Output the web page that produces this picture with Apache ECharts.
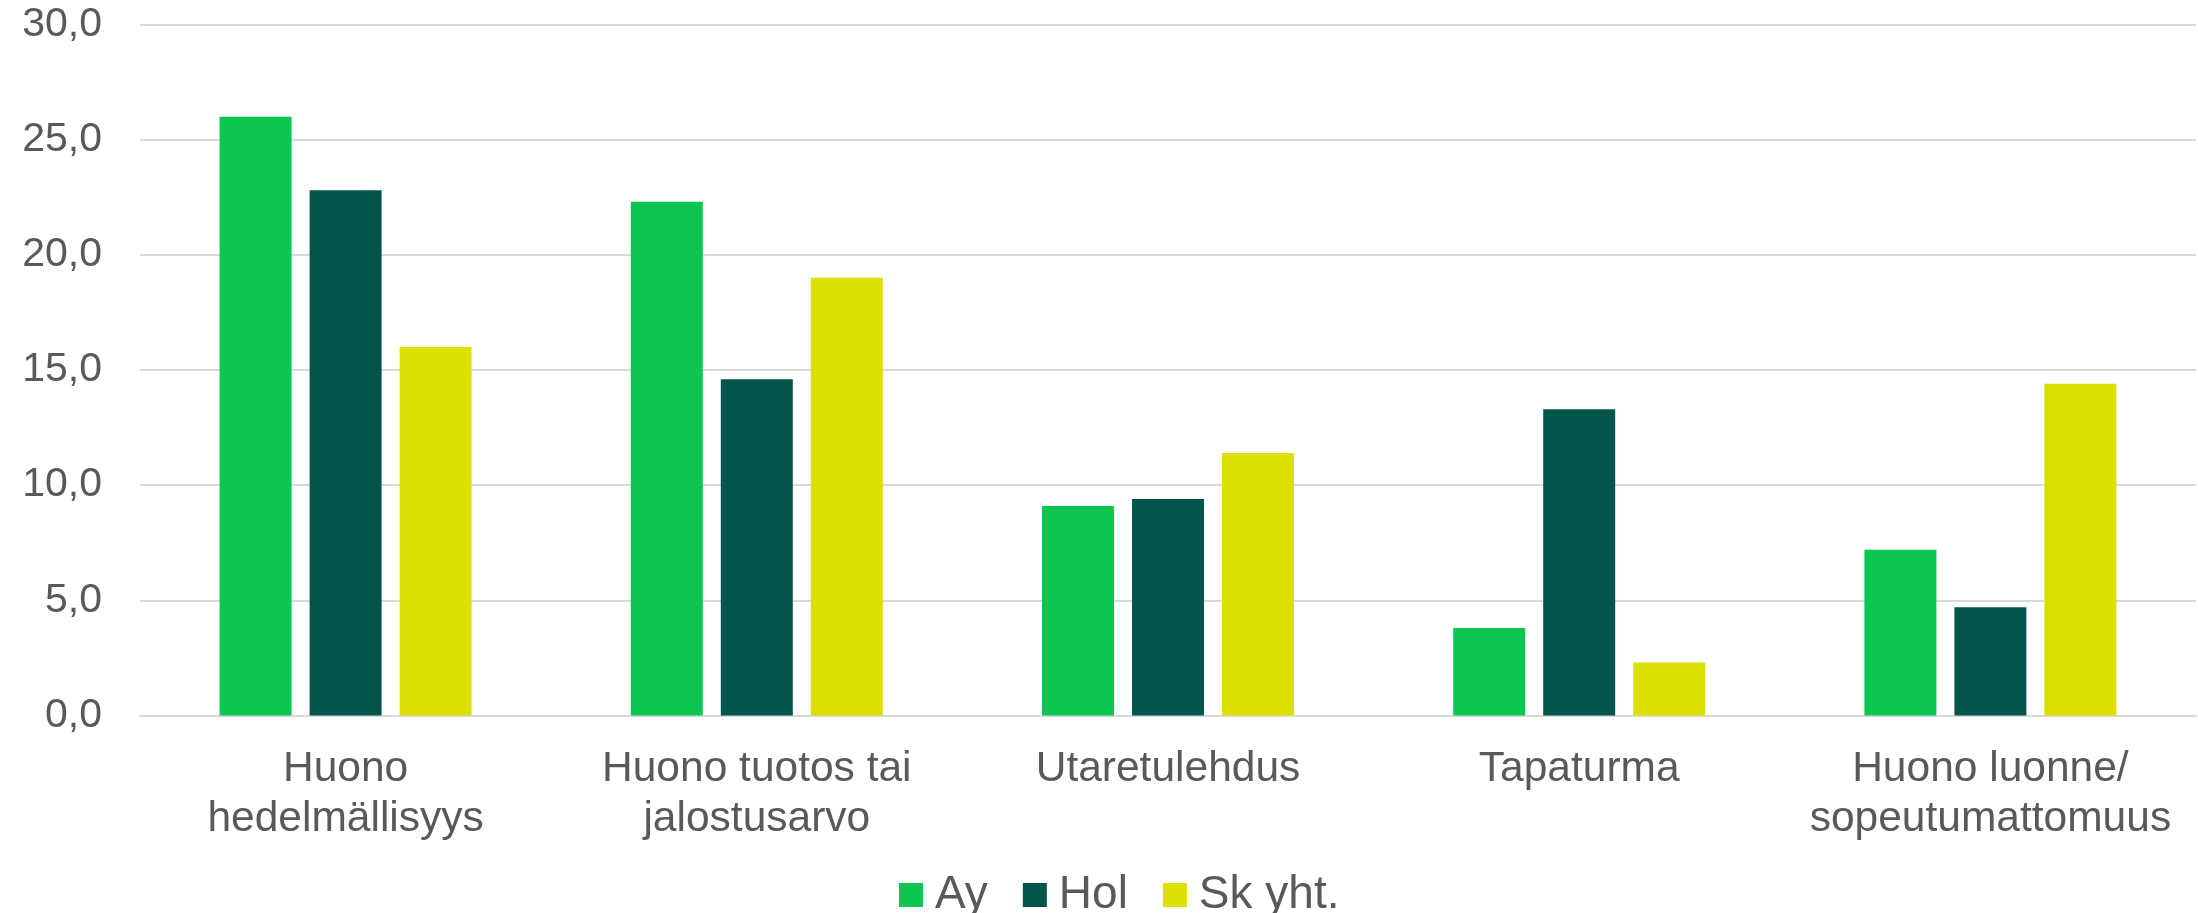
<!DOCTYPE html>
<html lang="fi">
    <head>
        <meta charset="UTF-8">
        <meta name="viewport" content="width=device-width, initial-scale=1.0">
        <script type="text/javascript" src="https://cdn.jsdelivr.net/npm/echarts@6.0.0/dist/echarts.min.js"></script>
        <title>Poistosyyt</title>
        <style>
            body { margin: 0; background: #fff; }
        </style>
    </head>
    <body>
        <div id="chart" style="width: 2198px; height: 913px;"></div>
    </body>
    <script>
        // poistosyyt, osuus (%)
        var categories = [
            "Huono\nhedelmällisyys",
            "Huono tuotos tai\njalostusarvo",
            "Utaretulehdus",
            "Tapaturma",
            "Huono luonne/\nsopeutumattomuus"
        ];
        var seriesNames = ["Ay", "Hol", "Sk yht."];
        var ayData  = [26.0, 22.3, 9.1, 3.8, 7.2];
        var holData = [22.8, 14.6, 9.4, 13.3, 4.7];
        var skData  = [16.0, 19.0, 11.4, 2.3, 14.4];
        var colors = ["#0bc650", "#03554b", "#dce000"];

        var font = '"Liberation Sans", Arial, sans-serif';
        var myCharts = echarts.init(document.getElementById("chart"));

        function makeBar(name, data, color) {
            return {
                name: name,
                type: "bar",
                data: data,
                barWidth: 72,
                barGap: "25%",
                itemStyle: { color: color },
                animation: false
            };
        }

        var option = {
            backgroundColor: "#ffffff",
            textStyle: { fontFamily: font },
            grid: {
                left: 140,
                right: 2,
                top: 24.5,
                bottom: 197.5,
                containLabel: false
            },
            legend: {
                data: seriesNames,
                left: 894,
                top: 867,
                itemWidth: 24,
                itemHeight: 24,
                itemGap: 35,
                icon: "rect",
                textStyle: {
                    fontFamily: font,
                    fontSize: 46,
                    lineHeight: 46,
                    color: "#595959",
                    padding: [0, 0, 0, 7]
                }
            },
            xAxis: {
                type: "category",
                data: categories,
                axisTick: { show: false },
                axisLine: { lineStyle: { color: "#d9d9d9", width: 2 } },
                axisLabel: {
                    interval: 0,
                    margin: 29,
                    fontFamily: font,
                    fontSize: 42.5,
                    lineHeight: 50,
                    color: "#595959"
                }
            },
            yAxis: {
                type: "value",
                min: 0,
                max: 30,
                interval: 5,
                axisLine: { show: false },
                axisTick: { show: false },
                splitLine: { lineStyle: { color: "#d9d9d9", width: 2 } },
                axisLabel: {
                    margin: 38,
                    fontFamily: font,
                    fontSize: 41,
                    color: "#595959",
                    formatter: function (v) {
                        return v.toFixed(1).replace(".", ",");
                    }
                }
            },
            series: [
                makeBar(seriesNames[0], ayData, colors[0]),
                makeBar(seriesNames[1], holData, colors[1]),
                makeBar(seriesNames[2], skData, colors[2])
            ]
        };
        myCharts.setOption(option);
    </script>
</html>
